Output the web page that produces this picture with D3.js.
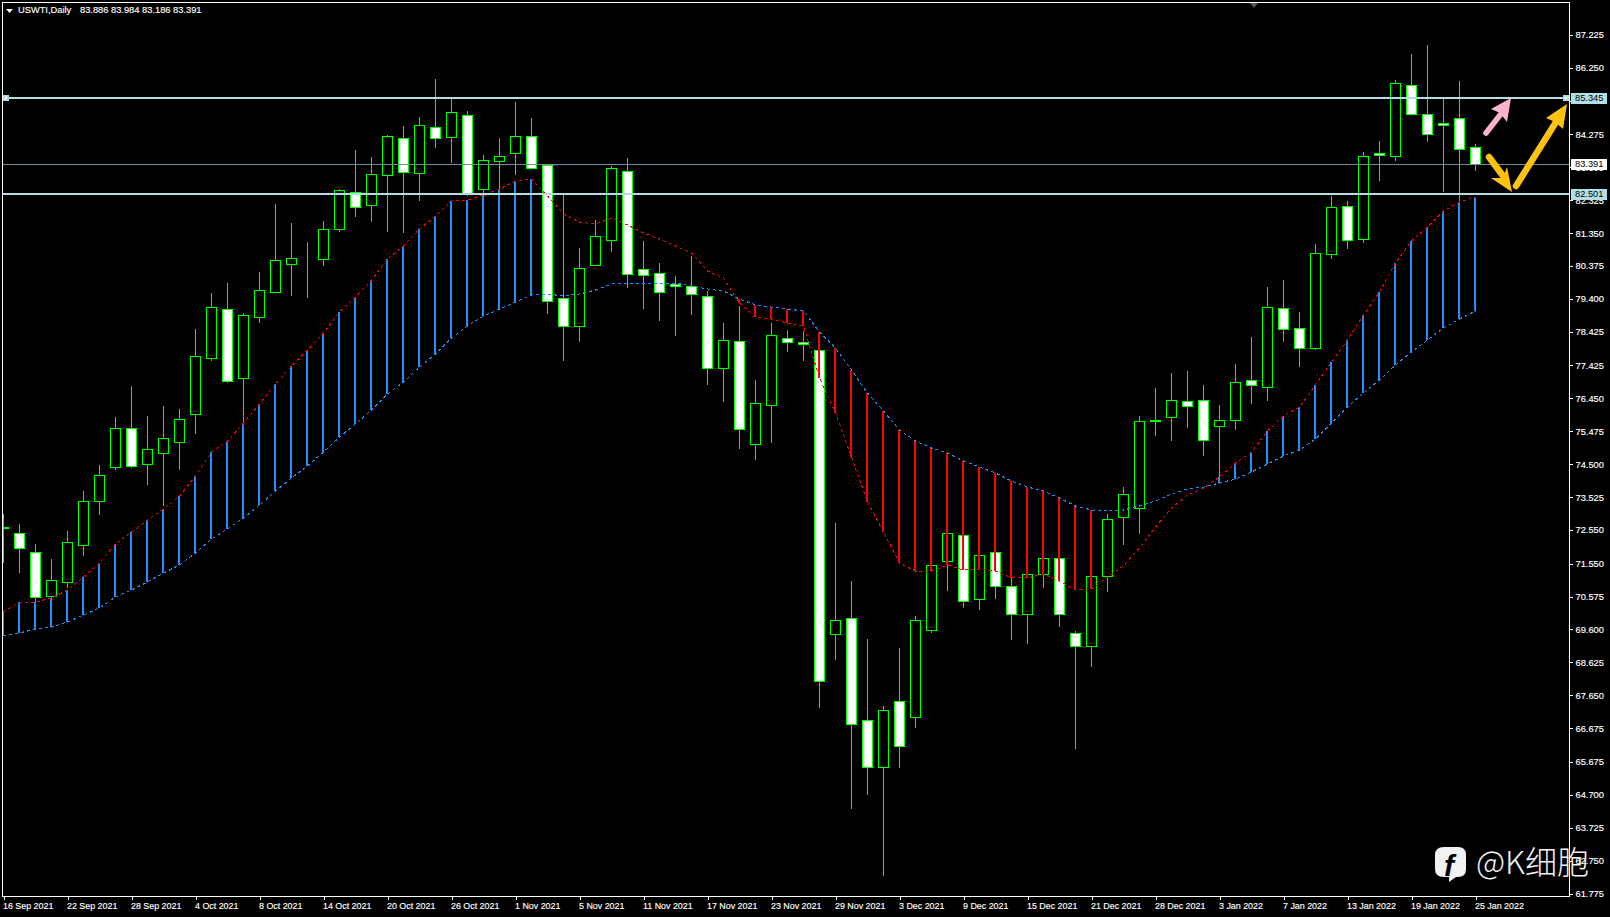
<!DOCTYPE html>
<html><head><meta charset="utf-8">
<script src="https://cdnjs.cloudflare.com/ajax/libs/d3/7.8.5/d3.min.js"></script>
<style>html,body{margin:0;padding:0;background:#000;overflow:hidden}svg{display:block}
text{font-family:"Liberation Sans",Arial,sans-serif;font-size:9.3px;fill:#fff}
</style></head><body><svg id="c" width="1610" height="917"></svg>
<script>
const symbolTitle="USWTI,Daily";
const ohlcTitle="83.886 83.984 83.186 83.391";
const opens=[72.652,72.459,71.896,70.592,71.007,72.103,73.407,74.415,75.571,74.504,
74.830,75.156,75.986,77.646,79.098,77.053,78.861,79.602,80.432,80.639,
80.580,81.469,82.565,82.180,83.069,84.166,83.129,84.492,84.196,84.848,
82.654,83.484,83.721,84.225,83.366,79.424,78.594,80.402,81.143,83.188,
80.283,80.165,79.839,79.780,79.483,77.349,78.149,75.096,76.252,78.238,
78.120,77.882,69.465,69.939,66.916,65.523,67.479,67.005,69.584,71.629,
72.400,70.503,71.896,70.888,70.058,71.244,71.718,69.495,69.110,71.185,
72.933,73.200,75.808,75.897,76.371,76.401,75.630,75.808,76.994,76.786,
79.127,78.535,77.942,80.728,82.150,81.172,83.721,83.632,85.737,84.877,
84.625,84.759,83.886];
const highs=[73.022,72.726,72.133,71.689,72.518,73.704,74.475,75.897,76.816,75.927,
76.223,76.134,78.505,79.572,79.868,78.979,80.195,82.209,81.647,81.084,
81.706,82.654,83.810,83.603,84.255,84.522,84.788,85.915,85.351,84.966,
83.662,84.166,85.233,84.759,83.395,82.476,80.906,81.736,83.336,83.573,
81.113,80.461,80.076,80.669,79.631,78.683,79.187,76.994,78.683,78.476,
78.446,77.912,72.755,71.035,69.317,67.331,69.050,70.000,71.570,72.489,
72.429,71.837,71.926,71.155,71.274,71.748,71.748,69.554,71.215,73.022,
73.822,75.927,76.757,77.201,77.260,76.845,76.253,77.467,78.268,79.750,
79.957,79.009,81.024,82.447,82.299,83.751,84.077,85.885,86.655,86.922,
85.322,85.855,83.984];
const lows=[71.570,71.274,70.414,70.473,70.829,71.778,72.993,74.326,74.385,73.881,
73.259,74.326,75.393,77.557,76.905,75.719,78.683,79.572,79.483,79.424,
80.372,81.380,81.825,81.676,81.380,81.350,82.299,83.870,83.425,82.447,
82.476,82.625,83.069,83.247,78.950,77.557,78.120,80.372,80.787,79.720,
79.098,78.742,78.298,78.920,76.845,76.341,74.948,74.622,75.126,77.824,
77.557,67.272,68.694,64.278,64.693,62.293,65.494,66.679,69.495,70.740,
70.236,70.177,70.503,69.288,69.169,70.829,69.673,66.057,68.488,70.711,
72.103,72.429,75.334,75.186,75.571,74.741,73.941,75.511,76.282,76.371,
78.120,77.379,77.882,80.580,80.876,81.054,82.891,83.484,84.862,84.047,
82.565,82.240,83.186];
const closes=[72.607,72.015,70.562,71.067,72.192,73.407,74.178,75.571,74.445,74.948,
75.275,75.838,77.705,79.157,76.964,78.920,79.661,80.550,80.609,80.650,
81.469,82.625,82.121,83.099,84.225,83.158,84.551,84.166,84.937,82.506,
83.514,83.632,84.225,83.277,79.335,78.594,80.313,81.262,83.277,80.135,
80.105,79.602,79.780,79.543,77.349,78.179,75.541,76.312,78.327,78.120,
78.061,68.073,69.880,66.798,65.523,67.212,66.146,69.880,71.511,72.459,
70.444,71.807,70.888,70.058,71.244,71.718,70.058,69.110,71.185,72.874,
73.615,75.779,75.790,76.401,76.223,75.215,75.808,76.934,76.845,79.157,
78.505,77.942,80.757,82.121,81.143,83.632,83.662,85.796,84.877,84.285,
84.566,83.840,83.391];
const spanRed=[70.117,70.414,70.414,70.532,70.770,71.155,71.570,72.133,72.489,72.845,
73.170,73.555,74.148,74.859,75.186,75.719,76.282,76.875,77.408,77.882,
78.387,79.009,79.453,79.957,80.580,80.965,81.469,81.854,82.299,82.328,
82.476,82.654,82.891,82.950,82.447,81.914,81.676,81.617,81.795,81.588,
81.350,81.172,80.965,80.758,80.224,80.017,79.276,78.861,78.801,78.683,
78.594,77.053,76.016,74.712,73.378,72.489,71.570,71.333,71.333,71.511,
71.363,71.392,71.333,71.126,71.126,71.244,71.037,70.770,70.800,71.155,
71.481,72.015,72.637,73.200,73.585,73.793,74.119,74.534,74.859,75.482,
75.927,76.193,76.845,77.527,78.179,78.920,79.602,80.461,81.113,81.528,
82.002,82.269,82.417];
const spanBlue=[69.406,69.495,69.614,69.673,69.821,70.028,70.236,70.562,70.770,71.007,
71.274,71.511,71.866,72.281,72.578,72.904,73.289,73.704,74.089,74.445,
74.859,75.304,75.689,76.104,76.578,76.934,77.379,77.764,78.238,78.594,
78.890,79.098,79.305,79.513,79.543,79.483,79.543,79.661,79.839,79.868,
79.868,79.839,79.868,79.780,79.691,79.631,79.394,79.216,79.157,79.098,
79.039,78.416,77.942,77.290,76.608,76.075,75.512,75.186,74.978,74.830,
74.593,74.415,74.237,74.000,73.822,73.704,73.496,73.259,73.141,73.111,
73.141,73.259,73.407,73.615,73.763,73.822,73.941,74.059,74.267,74.504,
74.741,74.919,75.245,75.719,76.193,76.608,76.993,77.438,77.823,78.179,
78.534,78.801,79.039];
const candlesWithoutCloudBar=[34,35,36,37,38,39,40,41,42,43,44,45,69,70,71,72,73,74,75];
const priceTicks=[87.225,86.250,85.275,84.275,83.300,82.325,81.350,80.375,79.400,78.425,77.425,76.450,75.475,74.500,73.525,72.550,71.550,70.575,69.600,68.625,67.650,66.675,65.675,64.700,63.725,62.750,61.775];
const dateTicks=["16 Sep 2021","22 Sep 2021","28 Sep 2021","4 Oct 2021","8 Oct 2021","14 Oct 2021","20 Oct 2021","26 Oct 2021","1 Nov 2021","5 Nov 2021","11 Nov 2021","17 Nov 2021","23 Nov 2021","29 Nov 2021","3 Dec 2021","9 Dec 2021","15 Dec 2021","21 Dec 2021","28 Dec 2021","3 Jan 2022","7 Jan 2022","13 Jan 2022","19 Jan 2022","25 Jan 2022"];
const resistance=85.345, support=82.501, lastPrice=83.391;
const watermark="@K细胞";

const GREEN="#00ff00",BLUE="#1e90ff",RED="#ff0000",LINE="#b0e0e6",GRAY="#778899";
const svg=d3.select("#c");
const x=d3.scaleLinear().domain([0,92]).range([3.5,1475.5]);
const y=d3.scaleLinear().domain([87.225,61.775]).range([34.8,893.5]);
const px=v=>Math.round(y(v));

svg.append("defs").append("clipPath").attr("id","plot").append("rect").attr("x",3).attr("y",3).attr("width",1566).attr("height",893);
const plot=svg.append("g").attr("clip-path","url(#plot)");

const idx=d3.range(opens.length);
// candles
const cg=plot.append("g").attr("shape-rendering","crispEdges");
cg.selectAll("line").data(idx).join("line")
 .attr("x1",x).attr("x2",x).attr("y1",i=>y(highs[i])).attr("y2",i=>y(lows[i]))
 .attr("stroke",GREEN).attr("stroke-width",1);
cg.selectAll("rect").data(idx).join("rect")
 .attr("x",i=>x(i)-5).attr("width",10)
 .attr("y",i=>px(Math.max(opens[i],closes[i]))+0.5)
 .attr("height",i=>Math.max(0,px(Math.min(opens[i],closes[i]))-px(Math.max(opens[i],closes[i]))))
 .attr("fill",i=>closes[i]<opens[i]?"#fff":"#000")
 .attr("stroke",GREEN).attr("stroke-width",1);
// cloud bars
const bars=idx.filter(i=>!candlesWithoutCloudBar.includes(i));
plot.append("g").attr("shape-rendering","crispEdges").selectAll("line").data(bars).join("line")
 .attr("x1",i=>x(i)-0.5).attr("x2",i=>x(i)-0.5)
 .attr("y1",i=>y(spanRed[i])).attr("y2",i=>y(spanBlue[i]))
 .attr("stroke",i=>spanRed[i]>spanBlue[i]?BLUE:RED).attr("stroke-width",2);
// span lines
const lg=d3.line().x((d,i)=>x(i)).y(d=>y(d));
[[spanBlue,BLUE],[spanRed,RED]].forEach(([s,c])=>{
 plot.append("path").attr("d",lg(s)).attr("fill","none").attr("stroke",c).attr("stroke-width",1)
 .attr("stroke-dasharray","3 3").attr("shape-rendering","crispEdges");
});
// horizontal levels
const hg=svg.append("g").attr("shape-rendering","crispEdges");
[[resistance,LINE,2],[support,LINE,2],[lastPrice,GRAY,1]].forEach(([v,c,w])=>{
 const yy=w==2?px(v):px(v)+0.5;
 hg.append("line").attr("x1",3).attr("x2",1569).attr("y1",yy).attr("y2",yy).attr("stroke",c).attr("stroke-width",w);
});
[[3,px(resistance)-3],[1563,px(resistance)-3]].forEach(([a,b])=>{
 hg.append("rect").attr("x",a).attr("y",b).attr("width",6).attr("height",6).attr("fill",LINE);
 hg.append("rect").attr("x",a+2).attr("y",b+2).attr("width",2).attr("height",2).attr("fill","#fff");
});

// axes
const yAxis=d3.axisRight(y).tickValues(priceTicks).tickFormat(d3.format(".3f")).tickSize(3).tickPadding(3);
const ga=svg.append("g").attr("transform","translate(1569.5,0)").call(yAxis);
const dateIdx=dateTicks.map((d,i)=>i*4);
const xAxis=d3.axisBottom(x).tickValues(dateIdx).tickFormat((d,i)=>dateTicks[i]).tickSize(3).tickPadding(3);
const gb=svg.append("g").attr("transform","translate(0,896.5)").call(xAxis);
[ga,gb].forEach(g=>{g.selectAll(".tick line").attr("stroke","#fff").attr("shape-rendering","crispEdges");
 g.select(".domain").remove();g.selectAll("text").style("font-family",'"Liberation Sans"').style("font-size","9.3px").style("stroke","#fff").style("stroke-width","0.15px").attr("fill","#fff");});
gb.selectAll("text").attr("text-anchor","start").attr("dx","-1").style("font-size","8.9px");
// frame
svg.append("g").attr("shape-rendering","crispEdges").call(g=>{
 g.append("rect").attr("x",2.5).attr("y",2.5).attr("width",1567).attr("height",894).attr("fill","none").attr("stroke","#fff");
});
// price boxes
[[resistance,LINE],[lastPrice,"#fff"],[support,LINE]].forEach(([v,c])=>{
 const yy=px(v);
 svg.append("rect").attr("x",1571).attr("y",yy-5.5).attr("width",36).attr("height",11).attr("fill",c).attr("shape-rendering","crispEdges");
 svg.append("text").attr("x",1575).attr("y",yy+0.2).attr("dominant-baseline","middle").style("fill","#000").text(d3.format(".3f")(v));
});
// header
svg.append("path").attr("d","M6 9H13L9.5 13Z").attr("fill","#fff");
svg.append("text").attr("x",18).attr("y",11).attr("dominant-baseline","middle").style("stroke","#fff").style("stroke-width","0.15px").text(symbolTitle);
svg.append("text").attr("x",80).attr("y",11).attr("dominant-baseline","middle").style("stroke","#fff").style("stroke-width","0.15px").text(ohlcTitle);
svg.append("path").attr("d","M1250 3H1258L1254 8Z").attr("fill","#555");
// hand-drawn arrows
function arrow(sx,sy,ex,ey,head,c,w){
 svg.append("line").attr("x1",sx).attr("y1",sy).attr("x2",ex).attr("y2",ey).attr("stroke",c).attr("stroke-width",w).attr("stroke-linecap","round");
 svg.append("path").attr("d","M"+head.map(p=>p.join(" ")).join("L")+"Z").attr("fill",c);
}
arrow(1486,133,1504,110,[[1511,98],[1491,109],[1500,113],[1507,122]],"#ffb3cc",5.5);
arrow(1489,157,1506,180,[[1512,192],[1491,178],[1503,178],[1507,167]],"#ffc20e",6.5);
arrow(1516,186,1556,122,[[1567,104],[1546,118],[1555,122],[1563,129]],"#ffc20e",6.5);
// watermark
svg.append("path").attr("d","M1444 847H1458Q1466 847 1466 855V869Q1466 877 1458 877H1456L1449 882V877H1444Q1435 877 1435 869V855Q1435 847 1444 847Z").attr("fill","#f2f2f2");
svg.append("text").attr("x",1449).attr("y",876).attr("text-anchor","middle").style("font-family",'"Liberation Sans"').style("font-size","30px").style("font-weight","700").style("font-style","italic").style("fill","#000").text("f");
svg.append("text").attr("x",1476).attr("y",874).style("font-family",'"Noto Sans CJK SC"').style("font-size","32px").style("font-weight","300").style("fill","#f2f2f2").text(watermark);
</script></body></html>
